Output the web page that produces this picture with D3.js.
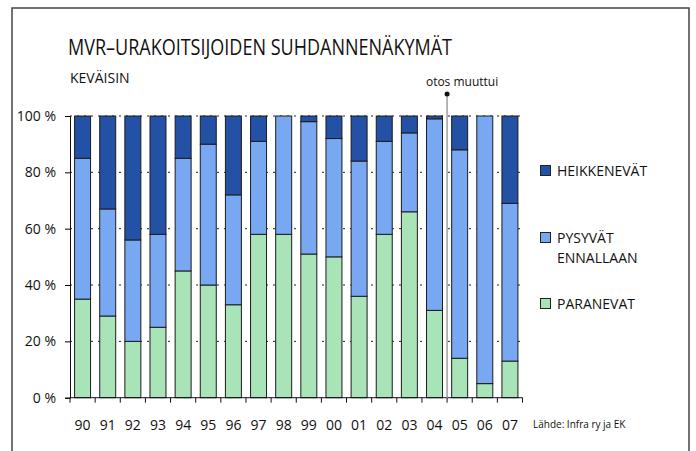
<!DOCTYPE html>
<html>
<head>
<meta charset="utf-8">
<script src="https://cdn.jsdelivr.net/npm/d3@7"></script>
<style>
  body { margin: 0; background: #fff; }
  svg text { font-family: "Open Sans", "DejaVu Sans", sans-serif; fill: #111; }
</style>
</head>
<body>
<div id="chart"></div>
<script>
// Data (% of answers, each spring)
var years = ["90","91","92","93","94","95","96","97","98","99","00","01","02","03","04","05","06","07"];
var paranevat   = [35, 29, 20, 25, 45, 40, 33, 58, 58, 51, 50, 36, 58, 66, 31, 14,  5, 13];
var pysyvat     = [50, 38, 36, 33, 40, 50, 39, 33, 42, 47, 42, 48, 33, 28, 68, 74, 95, 56];
var heikkenevat = [15, 33, 44, 42, 15, 10, 28,  9,  0,  2,  8, 16,  9,  6,  1, 12,  0, 31];
var yTicks = [0, 20, 40, 60, 80, 100];
var seriesKeys = ["paranevat", "pysyvat", "heikkenevat"];
var seriesColors = { paranevat: "#a9e4b8", pysyvat: "#78a8f2", heikkenevat: "#2251a5" };

var svgWidth = 696;
var svgHeight = 451;

// plot area
var chartMargin = { top: 116, left: 70 };
var chartWidth = 452.5;
var chartHeight = 281.7;

var svg = d3.select("#chart")
  .append("svg")
  .attr("width", svgWidth)
  .attr("height", svgHeight);

// outer frame (bottom edge runs off the picture)
svg.append("path")
  .attr("d", "M12,470V8H689V470")
  .attr("fill", "none")
  .attr("stroke", "#444")
  .attr("stroke-width", 1.5);

// titles
svg.append("text")
  .attr("x", 68).attr("y", 55)
  .style("font-size", "22px")
  .attr("textLength", 384)
  .attr("lengthAdjust", "spacingAndGlyphs")
  .text("MVR–URAKOITSIJOIDEN SUHDANNENÄKYMÄT");

svg.append("text")
  .attr("x", 70).attr("y", 83)
  .style("font-size", "14px")
  .text("KEVÄISIN");

var chartGroup = svg.append("g")
  .attr("transform", `translate(${chartMargin.left}, ${chartMargin.top})`);

// build rows for the stack
var rows = years.map(function(y, i) {
  return { year: y, paranevat: paranevat[i], pysyvat: pysyvat[i], heikkenevat: heikkenevat[i] };
});
var stacked = d3.stack().keys(seriesKeys)(rows);

var xBandScale = d3.scaleBand()
  .domain(years)
  .range([0, chartWidth])
  .paddingInner(0.364)
  .paddingOuter(0.182);
var yLinearScale = d3.scaleLinear()
  .domain([0, 100])
  .range([chartHeight, 0]);

var step = xBandScale.step();
var gap = step * xBandScale.paddingInner() / 2;

// dotted gridlines
chartGroup.append("g")
  .selectAll("line")
  .data(yTicks.filter(d => d > 0))
  .enter()
  .append("line")
  .attr("x1", 0)
  .attr("x2", chartWidth)
  .attr("y1", d => yLinearScale(d))
  .attr("y2", d => yLinearScale(d))
  .attr("stroke", "#222")
  .attr("stroke-width", 1)
  .attr("stroke-dasharray", "2,5");

// bars
chartGroup.append("g")
  .selectAll("g")
  .data(stacked)
  .enter()
  .append("g")
  .attr("fill", d => seriesColors[d.key])
  .selectAll("rect")
  .data(d => d)
  .enter()
  .append("rect")
  .filter(d => d[1] - d[0] > 0)
  .attr("x", d => xBandScale(d.data.year))
  .attr("y", d => yLinearScale(d[1]))
  .attr("width", xBandScale.bandwidth())
  .attr("height", d => yLinearScale(d[0]) - yLinearScale(d[1]))
  .attr("stroke", "#1c1c1c")
  .attr("stroke-width", 1);

// y axis
var leftAxis = d3.axisLeft(yLinearScale)
  .tickValues(yTicks)
  .tickFormat(d => d + " %")
  .tickSize(5)
  .tickPadding(9);
var yAxisG = chartGroup.append("g").call(leftAxis);
yAxisG.selectAll("text").style("font-size", "14px").attr("fill", "#111");
yAxisG.select(".domain").attr("stroke", "#111");

// x axis: labels under bars, ticks at band boundaries
var bottomAxis = d3.axisBottom(xBandScale).tickSize(0).tickPadding(22);
var xAxisG = chartGroup.append("g")
  .attr("transform", `translate(0, ${chartHeight})`)
  .call(bottomAxis);
xAxisG.select(".domain").remove();
xAxisG.selectAll("text").style("font-size", "14px").attr("fill", "#111");

var xAxisLine = chartGroup.append("g")
  .attr("transform", `translate(0, ${chartHeight})`);
xAxisLine.append("line")
  .attr("x1", 0).attr("x2", chartWidth)
  .attr("stroke", "#111");
xAxisLine.selectAll(".bt")
  .data(years.concat(["end"]))
  .enter()
  .append("line")
  .attr("class", "bt")
  .attr("x1", (d, i) => i < years.length ? xBandScale(d) - gap : chartWidth)
  .attr("x2", (d, i) => i < years.length ? xBandScale(d) - gap : chartWidth)
  .attr("y1", 0).attr("y2", 5)
  .attr("stroke", "#111");

// "otos muuttui" marker between 04 and 05
var markX = xBandScale("05") - gap;
chartGroup.append("line")
  .attr("x1", markX).attr("x2", markX)
  .attr("y1", 94 - chartMargin.top)
  .attr("y2", chartHeight)
  .attr("stroke", "#a0a0a0")
  .attr("stroke-width", 1.5);
chartGroup.append("circle")
  .attr("cx", markX)
  .attr("cy", 94 - chartMargin.top)
  .attr("r", 2.5)
  .attr("fill", "#111");
chartGroup.append("text")
  .attr("x", markX + 15)
  .attr("y", 86 - chartMargin.top)
  .style("text-anchor", "middle")
  .style("font-size", "12px")
  .text("otos muuttui");

// legend
var legendItems = [
  { key: "heikkenevat", lines: ["HEIKKENEVÄT"], y: 165 },
  { key: "pysyvat", lines: ["PYSYVÄT", "ENNALLAAN"], y: 232 },
  { key: "paranevat", lines: ["PARANEVAT"], y: 298 }
];
var legend = svg.append("g");
legendItems.forEach(function(item) {
  legend.append("rect")
    .attr("x", 540.5).attr("y", item.y + 0.5)
    .attr("width", 10).attr("height", 10)
    .attr("fill", seriesColors[item.key])
    .attr("stroke", "#222");
  var t = legend.append("text")
    .attr("x", 557).attr("y", item.y + 11)
    .style("font-size", "14px");
  item.lines.forEach(function(line, i) {
    t.append("tspan")
      .attr("x", 557)
      .attr("dy", i === 0 ? 0 : 20)
      .text(line);
  });
});

// source
svg.append("text")
  .attr("x", 533).attr("y", 428)
  .style("font-size", "10px")
  .text("Lähde: Infra ry ja EK");
</script>
</body>
</html>
